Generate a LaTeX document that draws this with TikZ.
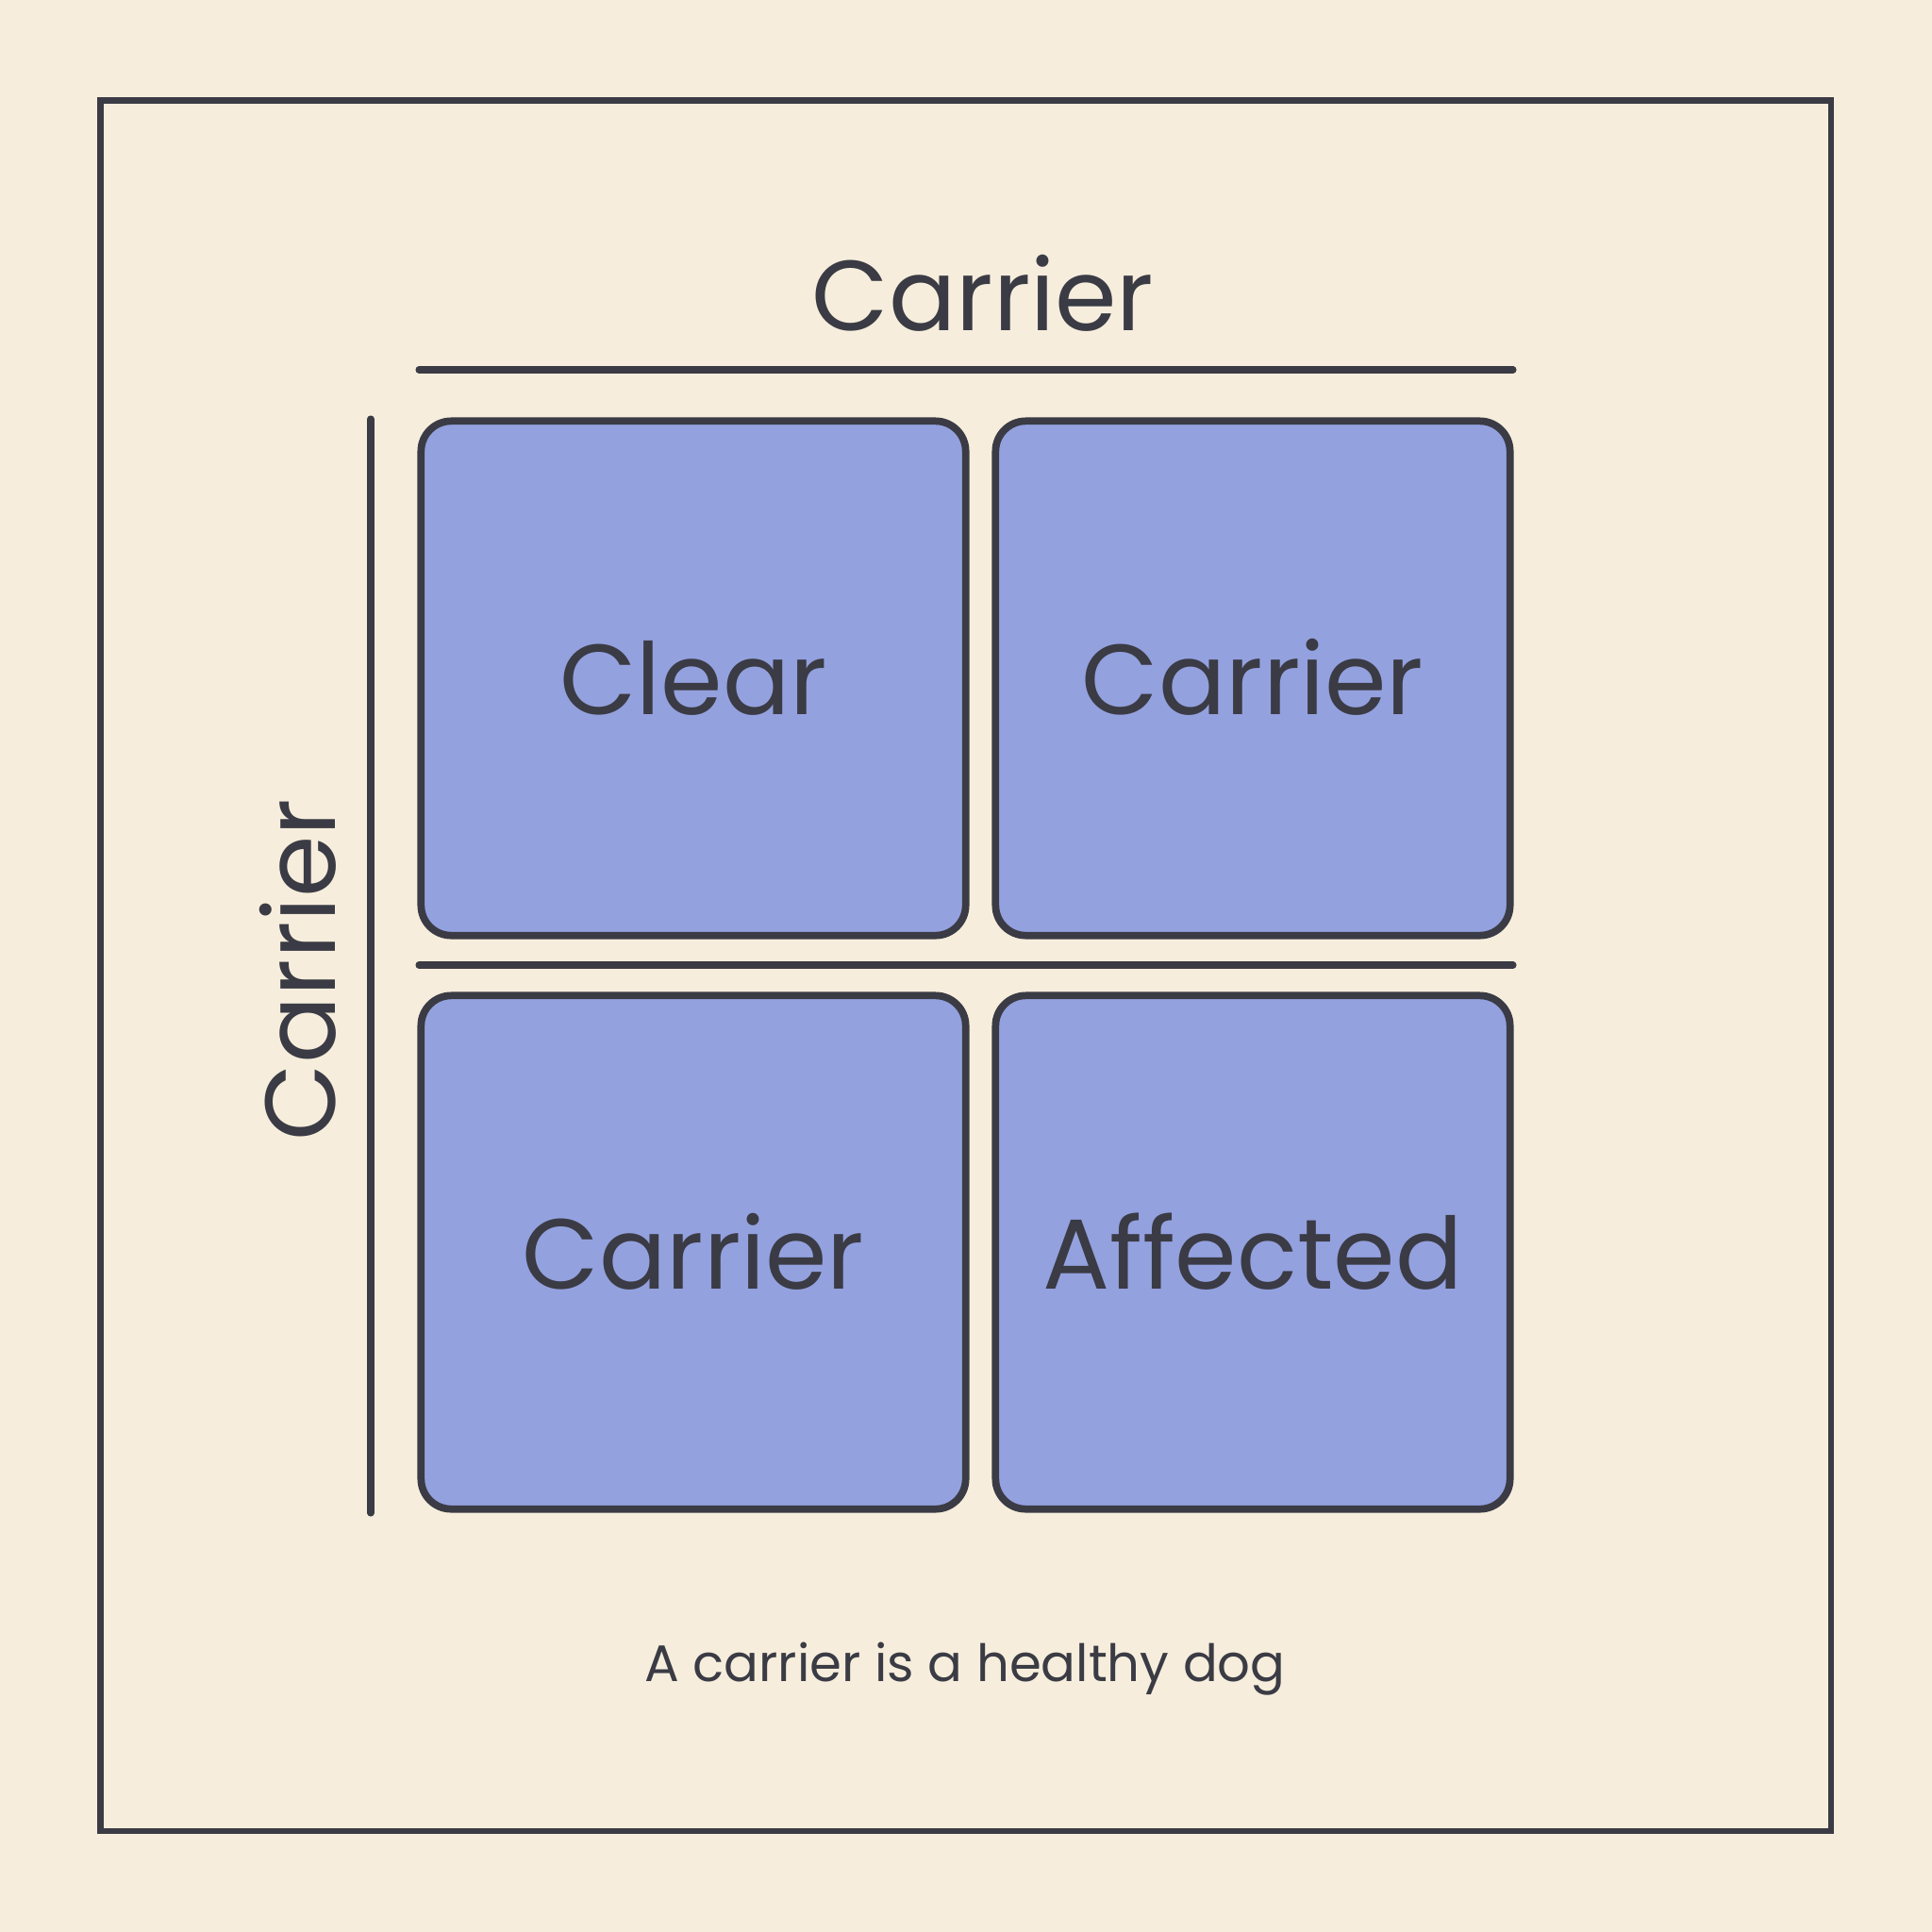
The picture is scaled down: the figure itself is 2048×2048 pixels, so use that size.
\documentclass[tikz,border=0pt]{standalone}
\usepackage{fontspec}
\setmainfont{Poppins}
\usetikzlibrary{positioning}
\definecolor{pcream}{HTML}{F6EDDC}
\definecolor{pblue}{HTML}{94A1DF}
\definecolor{pink}{HTML}{3A3B44}
\begin{document}
\begin{tikzpicture}[x=0.01cm,y=-0.01cm,
    cell/.style={draw=pink,line width=2.2pt,fill=pblue,rounded corners=0.32cm,
      minimum height=5.45cm,text=pink,font=\fontsize{30}{36}\selectfont,
      text height=22pt,text depth=0pt},
    rule/.style={draw=pink,line width=2pt,line cap=round},
    bigtext/.style={text=pink,font=\fontsize{30}{36}\selectfont,inner sep=0pt}]
  \fill[pcream] (0,0) rectangle (2048,2048);
  \useasboundingbox (0,0) rectangle (2048,2048);
  \draw[pink,line width=1.9pt] (106.5,106.5) rectangle (1941,1941);
  \node[bigtext,anchor=base] (toplabel) at (1042,350) {Carrier};
  \node[bigtext,anchor=base,rotate=90] (leftlabel) at (355,1028) {Carrier};
  \coordinate (topL) at (444,392);
  \coordinate (topR) at (1604,392);
  \coordinate (midL) at (444,1023);
  \coordinate (midR) at (1604,1023);
  \coordinate (sideT) at (393,444);
  \coordinate (sideB) at (393,1604);
  \draw[rule] (topL) -- (topR);
  \draw[rule] (midL) -- (midR);
  \draw[rule] (sideT) -- (sideB);
  \node[cell,minimum width=5.77cm] (clear) at (735,719) {Clear};
  \node[cell,minimum width=5.45cm] (carrierA) at (1328,719) {Carrier};
  \node[cell,minimum width=5.77cm,minimum height=5.44cm] (carrierB) at (735,1327.5) {Carrier};
  \node[cell,minimum width=5.45cm,minimum height=5.44cm] (affected) at (1328,1327.5) {Affected};
  \node[text=pink,font=\fontsize{15.5}{19}\selectfont,anchor=base] (note) at (1023,1782) {A carrier is a healthy dog};
\end{tikzpicture}
\end{document}
